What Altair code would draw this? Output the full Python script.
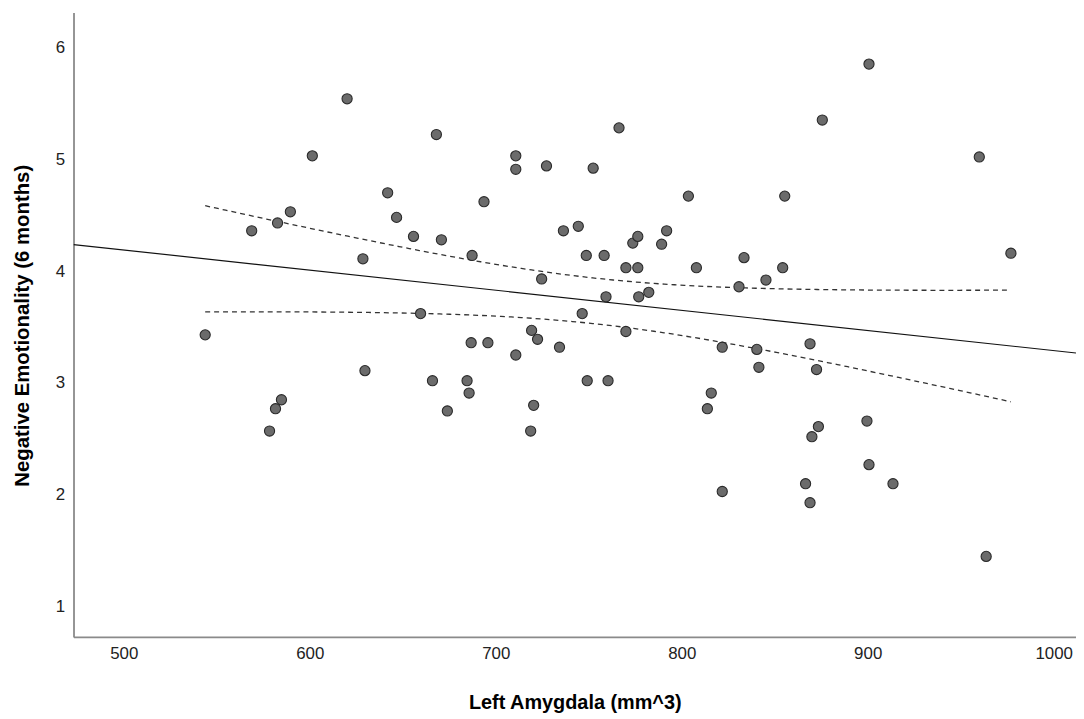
import altair as alt
import pandas as pd
import numpy as np

# Left amygdala volume (mm^3) and negative emotionality at 6 months
amygdala = [543.8, 568.8, 578.4, 581.6, 582.7, 584.8, 589.6, 601.4, 620.1, 628.6,
            629.7, 641.9, 646.7, 655.8, 659.6, 666.0, 668.1, 670.8, 674.0, 684.6,
            685.7, 686.8, 687.3, 693.7, 695.8, 710.8, 710.8, 710.8, 718.8, 719.3,
            720.4, 722.5, 724.7, 727.3, 734.3, 736.4, 744.4, 746.5, 748.7, 749.2,
            752.4, 758.3, 759.3, 760.4, 766.3, 770.0, 770.0, 776.4, 773.7, 776.4,
            776.9, 782.3, 789.2, 791.9, 803.6, 807.9, 813.8, 815.9, 821.8, 830.8,
            833.5, 840.4, 841.5, 845.3, 854.3, 855.4, 821.8, 866.6, 869.0, 870.0,
            873.5, 869.0, 872.5, 875.6, 900.7, 899.6, 900.7, 913.6, 960.0, 963.7,
            977.0]
negemo = [3.43, 4.36, 2.57, 2.77, 4.43, 2.85, 4.53, 5.03, 5.54, 4.11,
          3.11, 4.70, 4.48, 4.31, 3.62, 3.02, 5.22, 4.28, 2.75, 3.02,
          2.91, 3.36, 4.14, 4.62, 3.36, 5.03, 4.91, 3.25, 2.57, 3.47,
          2.80, 3.39, 3.93, 4.94, 3.32, 4.36, 4.40, 3.62, 4.14, 3.02,
          4.92, 4.14, 3.77, 3.02, 5.28, 4.03, 3.46, 4.03, 4.25, 4.31,
          3.77, 3.81, 4.24, 4.36, 4.67, 4.03, 2.77, 2.91, 3.32, 3.86,
          4.12, 3.30, 3.14, 3.92, 4.03, 4.67, 2.03, 2.10, 1.93, 2.52,
          2.61, 3.35, 3.12, 5.35, 5.85, 2.66, 2.27, 2.10, 5.02, 1.45,
          4.16]

x_ticks = [500, 600, 700, 800, 900, 1000]
y_ticks = [1, 2, 3, 4, 5, 6]
x_domain = [473, 1012]
y_domain = [0.73, 6.31]

# Linear fit and 95% confidence band of the mean, derived from the data
xa = np.array(amygdala)
ya = np.array(negemo)
n = len(xa)
b1, b0 = np.polyfit(xa, ya, 1)
resid = ya - (b0 + b1 * xa)
s = np.sqrt(np.sum(resid ** 2) / (n - 2))
xm = xa.mean()
sxx = np.sum((xa - xm) ** 2)
t_crit = 1.990

fit = pd.DataFrame({"x": x_domain, "y": [b0 + b1 * v for v in x_domain]})
gx = np.linspace(xa.min(), xa.max(), 80)
half = t_crit * s * np.sqrt(1.0 / n + (gx - xm) ** 2 / sxx)
gy = b0 + b1 * gx
band = pd.concat([
    pd.DataFrame({"x": gx, "y": gy + half, "side": "upper"}),
    pd.DataFrame({"x": gx, "y": gy - half, "side": "lower"}),
])

pts = pd.DataFrame({"x": amygdala, "y": negemo})

xs = alt.Scale(domain=x_domain, nice=False, zero=False)
ys = alt.Scale(domain=y_domain, nice=False, zero=False)

x_axis = alt.Axis(values=x_ticks, format="d", title="Left Amygdala (mm^3)", ticks=False, grid=False,
                  labelPadding=9, labelFontSize=17, labelColor="#222",
                  titleFontSize=20, titleFontWeight="bold", titleColor="#000",
                  titleBaseline="middle", titleY=66, domainColor="#8a8a8a", domainWidth=1.8,
                  labelFont="Liberation Sans", titleFont="Liberation Sans")
y_axis = alt.Axis(values=y_ticks, format="d", title="Negative Emotionality (6 months)", ticks=False, grid=False,
                  labelPadding=9, labelFontSize=17, labelColor="#222",
                  titleFontSize=20.5, titleFontWeight="bold", titleColor="#000",
                  titleBaseline="middle", titleX=-51, titleY=315,
                  domainColor="#8a8a8a", domainWidth=1.8,
                  labelFont="Liberation Sans", titleFont="Liberation Sans")

fit_line = alt.Chart(fit).mark_line(color="#111", strokeWidth=1.2, clip=True).encode(
    x=alt.X("x:Q", scale=xs, axis=x_axis),
    y=alt.Y("y:Q", scale=ys, axis=y_axis),
)
ci_lines = alt.Chart(band).mark_line(color="#333", strokeWidth=1.3, strokeDash=[5, 4], clip=True).encode(
    x=alt.X("x:Q", scale=xs),
    y=alt.Y("y:Q", scale=ys),
    detail="side:N",
)
points = alt.Chart(pts).mark_point(shape="circle", filled=True, size=105, fill="#6b6b6b",
                                   stroke="#2a2a2a", strokeWidth=1.1, opacity=1).encode(
    x=alt.X("x:Q", scale=xs),
    y=alt.Y("y:Q", scale=ys),
)

chart = alt.layer(fit_line, ci_lines, points).properties(
    width=1010, height=629,
    background="white",
    autosize=alt.AutoSizeParams(type="none"),
    padding={"left": 66, "top": 2, "right": 0, "bottom": 80},
).configure_view(stroke=None)

chart.save("out.html", embed_options={"renderer": "svg", "actions": False})
